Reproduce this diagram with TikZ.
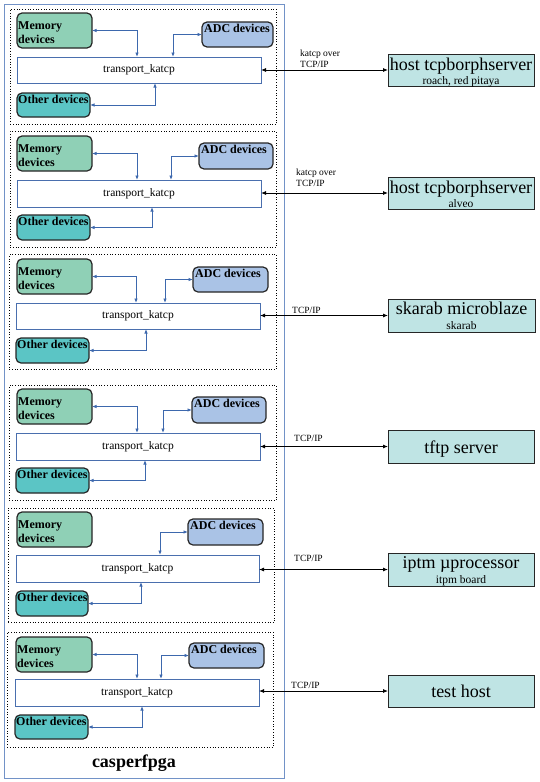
\documentclass[tikz,border=0pt]{standalone}
\usepackage{fontspec}
\setmainfont{Liberation Serif}
\usetikzlibrary{arrows.meta,calc}
\definecolor{memc}{RGB}{143,208,182}
\definecolor{adcc}{RGB}{170,195,230}
\definecolor{othc}{RGB}{91,197,197}
\definecolor{hostc}{RGB}{191,228,228}
\definecolor{framec}{RGB}{114,146,199}
\definecolor{trc}{RGB}{74,111,174}
\definecolor{arrc}{RGB}{61,104,173}
\newcommand\mkbox[7]{\node[#1,anchor=north west,minimum width={(#5-#3)*1pt},minimum height={(#6-#4)*1pt}] (#2) at (#3,#4) {#7};}
\tikzset{
  frame/.style={draw=framec,line width=1.4pt},
  panel/.style={draw=black,dotted,line width=0.7pt},
  dev/.style={draw=black!85,line width=1.2pt,rounded corners=5pt,inner sep=0pt,outer sep=0pt},
  mem/.style={dev,fill=memc},
  adc/.style={dev,fill=adcc},
  oth/.style={dev,fill=othc},
  tr/.style={draw=trc,fill=white,line width=1pt,inner sep=0pt,outer sep=0pt,font=\fontsize{11.5}{13}\selectfont},
  host/.style={draw=black!85,fill=hostc,line width=1pt,inner sep=0pt,outer sep=0pt},
  devtxt/.style={inner sep=0pt,align=left,font=\fontsize{12}{14}\selectfont\bfseries},
  htitle/.style={inner sep=0pt,font=\fontsize{18}{20}\selectfont},
  hsub/.style={inner sep=0pt,font=\fontsize{11.5}{13}\selectfont},
  lbl/.style={inner sep=0pt,align=left,font=\fontsize{9.5}{10.5}\selectfont},
  iarr/.style={draw=arrc,line width=0.9pt,{Latex[length=4.5pt,width=3.5pt]}-{Latex[length=4.5pt,width=3.5pt]}},
  harr/.style={draw=black,line width=0.8pt,{Latex[length=5pt,width=4pt]}-{Latex[length=5pt,width=4pt]}},
}
\begin{document}
\begin{tikzpicture}[x=1pt,y=-1pt]
\useasboundingbox (0,0) rectangle (539,782);
\mkbox{frame}{outer}{4}{4}{284}{778}{}
\node[font=\fontsize{18}{20}\selectfont\bfseries] (cf) at (134,763) {casperfpga};

% ---------- panel 1
\mkbox{panel}{p1}{10}{9}{276}{124}{}
\mkbox{mem}{m1}{17}{13}{92}{48}{}
\mkbox{adc}{a1}{202}{22}{273}{47}{}
\mkbox{tr}{t1}{17}{57}{261}{83}{transport\_katcp}
\mkbox{oth}{o1}{17}{93}{90}{117}{}
\node[devtxt,anchor=base west] (m1t) at ([xshift=1pt,yshift=-30pt]m1.north west) {Memory\\devices};
\node[devtxt,anchor=base west] (a1t) at ([xshift=2pt,yshift=-10pt]a1.north west) {ADC devices};
\node[devtxt,anchor=base west] (o1t) at ([xshift=1pt,yshift=-10pt]o1.north west) {Other devices};
\coordinate (mx1) at (137,0); \coordinate (ax1) at (173,0); \coordinate (ox1) at (155,0);
\draw[iarr] (m1.east) -| (t1.north -| mx1);
\draw[iarr] (a1.west) -| (t1.north -| ax1);
\draw[iarr] (o1.east) -| (t1.south -| ox1);
\mkbox{host}{h1}{388}{54}{534}{86}{}
\node[htitle,anchor=base] (h1a) at ([yshift=-0.5pt]h1.center) {host tcpborphserver};
\node[hsub,anchor=base] (h1b) at ([yshift=-14pt]h1.center) {roach, red pitaya};
\draw[harr] (t1.east |- h1.west) -- (h1.west);
\node[lbl,anchor=base west] (l1) at (300,67) {katcp over\\TCP/IP};

% ---------- panel 2
\mkbox{panel}{p2}{10}{131}{276}{247}{}
\mkbox{mem}{m2}{17}{136}{92}{171}{}
\mkbox{adc}{a2}{199}{143}{273}{169}{}
\mkbox{tr}{t2}{17}{180}{261}{207}{transport\_katcp}
\mkbox{oth}{o2}{17}{215}{90}{240}{}
\node[devtxt,anchor=base west] (m2t) at ([xshift=1pt,yshift=-30pt]m2.north west) {Memory\\devices};
\node[devtxt,anchor=base west] (a2t) at ([xshift=2pt,yshift=-10pt]a2.north west) {ADC devices};
\node[devtxt,anchor=base west] (o2t) at ([xshift=1pt,yshift=-10pt]o2.north west) {Other devices};
\coordinate (mx2) at (137,0); \coordinate (ax2) at (171,0); \coordinate (ox2) at (152,0);
\draw[iarr] (m2.east) -| (t2.north -| mx2);
\draw[iarr] (a2.west) -| (t2.north -| ax2);
\draw[iarr] (o2.east) -| (t2.south -| ox2);
\mkbox{host}{h2}{388}{177}{534}{209}{}
\node[htitle,anchor=base] (h2a) at ([yshift=0pt]h2.center) {host tcpborphserver};
\node[hsub,anchor=base] (h2b) at ([yshift=-14pt]h2.center) {alveo};
\draw[harr] (t2.east |- h2.west) -- (h2.west);
\node[lbl,anchor=base west] (l2) at (296,186) {katcp over\\TCP/IP};

% ---------- panel 3
\mkbox{panel}{p3}{9}{254}{276}{369}{}
\mkbox{mem}{m3}{17}{259}{92}{294}{}
\mkbox{adc}{a3}{193}{267}{268}{292}{}
\mkbox{tr}{t3}{16}{303}{260}{329}{transport\_katcp}
\mkbox{oth}{o3}{16}{338}{89}{363}{}
\node[devtxt,anchor=base west] (m3t) at ([xshift=1pt,yshift=-30pt]m3.north west) {Memory\\devices};
\node[devtxt,anchor=base west] (a3t) at ([xshift=2pt,yshift=-10pt]a3.north west) {ADC devices};
\node[devtxt,anchor=base west] (o3t) at ([xshift=1pt,yshift=-10pt]o3.north west) {Other devices};
\coordinate (mx3) at (136,0); \coordinate (ax3) at (165,0); \coordinate (ox3) at (146,0);
\draw[iarr] (m3.east) -| (t3.north -| mx3);
\draw[iarr] (a3.west) -| (t3.north -| ax3);
\draw[iarr] (o3.east) -| (t3.south -| ox3);
\mkbox{host}{h3}{388}{299}{535}{332}{}
\node[htitle,anchor=base] (h3a) at ([yshift=1.5pt]h3.center) {skarab microblaze};
\node[hsub,anchor=base] (h3b) at ([yshift=-13.5pt]h3.center) {skarab};
\draw[harr] (t3.east |- h3.west) -- (h3.west);
\node[lbl,anchor=base west] (l3) at (292,313) {TCP/IP};

% ---------- panel 4
\mkbox{panel}{p4}{9}{385}{276}{500}{}
\mkbox{mem}{m4}{17}{389}{92}{424}{}
\mkbox{adc}{a4}{192}{397}{266}{423}{}
\mkbox{tr}{t4}{16}{433}{260}{460}{transport\_katcp}
\mkbox{oth}{o4}{16}{468}{89}{493}{}
\node[devtxt,anchor=base west] (m4t) at ([xshift=1pt,yshift=-30pt]m4.north west) {Memory\\devices};
\node[devtxt,anchor=base west] (a4t) at ([xshift=2pt,yshift=-10pt]a4.north west) {ADC devices};
\node[devtxt,anchor=base west] (o4t) at ([xshift=1pt,yshift=-10pt]o4.north west) {Other devices};
\coordinate (mx4) at (137,0); \coordinate (ax4) at (163,0); \coordinate (ox4) at (145,0);
\draw[iarr] (m4.east) -| (t4.north -| mx4);
\draw[iarr] (a4.west) -| (t4.north -| ax4);
\draw[iarr] (o4.east) -| (t4.south -| ox4);
\mkbox{host}{h4}{388}{430}{534}{463}{}
\node[htitle,anchor=base] (h4a) at ([yshift=-6.5pt]h4.center) {tftp server};
\draw[harr] (t4.east |- h4.west) -- (h4.west);
\node[lbl,anchor=base west] (l4) at (294,441) {TCP/IP};

% ---------- panel 5
\mkbox{panel}{p5}{8}{508}{274}{622}{}
\mkbox{mem}{m5}{17}{512}{92}{547}{}
\mkbox{adc}{a5}{188}{519}{263}{545}{}
\mkbox{tr}{t5}{16}{555}{259}{582}{transport\_katcp}
\mkbox{oth}{o5}{16}{591}{88}{616}{}
\node[devtxt,anchor=base west] (m5t) at ([xshift=1pt,yshift=-30pt]m5.north west) {Memory\\devices};
\node[devtxt,anchor=base west] (a5t) at ([xshift=2pt,yshift=-10pt]a5.north west) {ADC devices};
\node[devtxt,anchor=base west] (o5t) at ([xshift=1pt,yshift=-10pt]o5.north west) {Other devices};
\coordinate (ax5) at (160,0); \coordinate (ox5) at (141,0);
\draw[iarr] (a5.west) -| (t5.north -| ax5);
\draw[iarr] (o5.east) -| (t5.south -| ox5);
\mkbox{host}{h5}{388}{553}{534}{586}{}
\node[htitle,anchor=base] (h5a) at ([yshift=1.5pt]h5.center) {iptm µprocessor};
\node[hsub,anchor=base] (h5b) at ([yshift=-13.5pt]h5.center) {itpm board};
\draw[harr] (t5.east |- h5.west) -- (h5.west);
\node[lbl,anchor=base west] (l5) at (294,561) {TCP/IP};

% ---------- panel 6
\mkbox{panel}{p6}{7}{632}{273}{747}{}
\mkbox{mem}{m6}{16}{637}{92}{672}{}
\mkbox{adc}{a6}{189}{643}{264}{668}{}
\mkbox{tr}{t6}{15}{679}{259}{706}{transport\_katcp}
\mkbox{oth}{o6}{15}{715}{88}{739}{}
\node[devtxt,anchor=base west] (m6t) at ([xshift=1pt,yshift=-30pt]m6.north west) {Memory\\devices};
\node[devtxt,anchor=base west] (a6t) at ([xshift=2pt,yshift=-10pt]a6.north west) {ADC devices};
\node[devtxt,anchor=base west] (o6t) at ([xshift=1pt,yshift=-10pt]o6.north west) {Other devices};
\coordinate (mx6) at (137,0); \coordinate (ax6) at (161,0); \coordinate (ox6) at (142,0);
\draw[iarr] (m6.east) -| (t6.north -| mx6);
\draw[iarr] (a6.west) -| (t6.north -| ax6);
\draw[iarr] (o6.east) -| (t6.south -| ox6);
\mkbox{host}{h6}{388}{675}{534}{707}{}
\node[htitle,anchor=base] (h6a) at ([yshift=-6pt]h6.center) {test host};
\draw[harr] (t6.east |- h6.west) -- (h6.west);
\node[lbl,anchor=base west] (l6) at (291,688) {TCP/IP};
\end{tikzpicture}
\end{document}
